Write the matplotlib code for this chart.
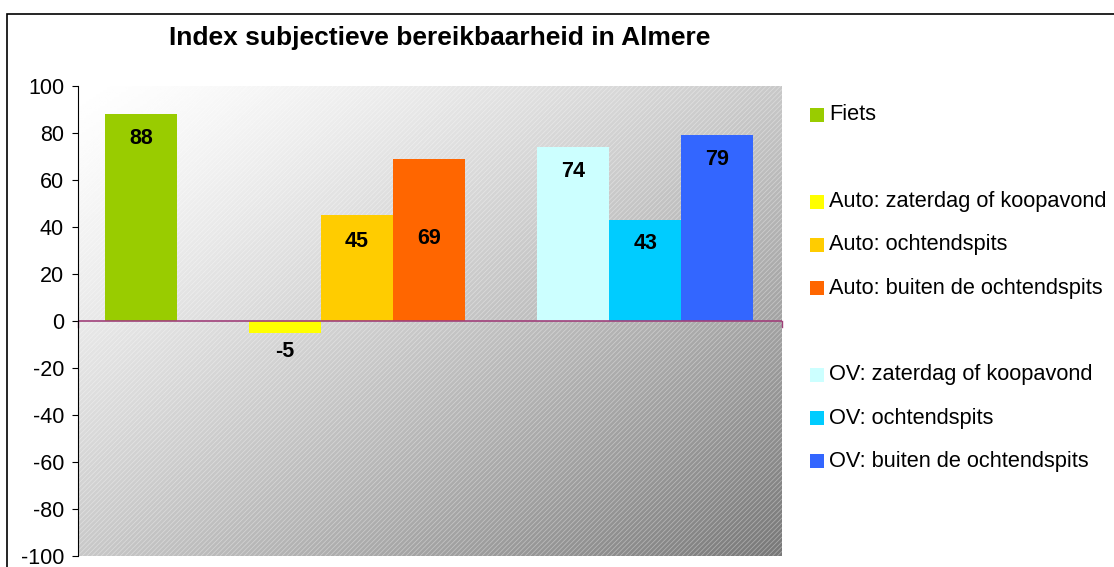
import numpy as np
import matplotlib
matplotlib.use('Agg')
import matplotlib.pyplot as plt
from matplotlib.patches import Rectangle

plt.rcParams['font.family'] = ['Liberation Sans', 'DejaVu Sans']
plt.rcParams['hatch.linewidth'] = 0.6
plt.rcParams['axes.unicode_minus'] = False

# series (None = blank series used as spacer, as in the original Excel chart)
labels = ['Fiets', '',
          'Auto: zaterdag of koopavond', 'Auto: ochtendspits', 'Auto: buiten de ochtendspits', '',
          'OV: zaterdag of koopavond', 'OV: ochtendspits', 'OV: buiten de ochtendspits']
values = [88, None, -5, 45, 69, None, 74, 43, 79]
colors = ['#99CC00', None, '#FFFF00', '#FFCC00', '#FF6600', None, '#CCFFFF', '#00CCFF', '#3366FF']
# label offset in pixels from bar end (69 was moved by hand in the original)
label_offsets = [-24, 0, -19, -26, -80, 0, -24, -24, -24]

W, H = 1114, 567
fig = plt.figure(figsize=(W / 100, H / 100), dpi=100)
fig.patch.set_facecolor('white')

# outer chart border (clipped on right/bottom like the source)
fig.add_artist(Rectangle((7 / W, -0.05), 1.1, 1 - 14 / H + 0.05, transform=fig.transFigure,
                         fill=False, edgecolor='black', linewidth=1.2))

ax = fig.add_axes([78 / W, 1 - 556 / H, (782 - 78) / W, (556 - 86) / H])

# gradient background
ny, nx = 200, 300
gx = np.linspace(0, 1, nx)
gy = np.linspace(0, 1, ny)
GX, GY = np.meshgrid(gx, gy)
t = np.clip((GX + GY) / 2, 0, 1)
grad = 1.0 - t ** 1.3 * (135 / 255)
ax.imshow(grad, cmap='gray', vmin=0, vmax=1, extent=[0, 1, 0, 1], transform=ax.transAxes,
          aspect='auto', origin='upper', zorder=0, interpolation='bilinear')
ax.add_patch(Rectangle((0, 0), 1, 1, transform=ax.transAxes, facecolor='none',
                       edgecolor=(1, 1, 1, 0.35), hatch='///////', linewidth=0, zorder=0.5))

x = np.arange(len(values))
for i, (v, c) in enumerate(zip(values, colors)):
    if v is None:
        continue
    ax.bar(x[i], v, width=1.0, color=c, zorder=2, linewidth=0)
    off = label_offsets[i]
    ax.annotate(str(v), (x[i], v), xytext=(0, off * 0.72), textcoords='offset points',
                ha='center', va='center', fontsize=15.5, fontweight='bold', zorder=3)

ax.set_xlim(-0.875, 8.9)
ax.set_ylim(-100, 100)
ax.set_yticks(np.arange(-100, 101, 20))
ax.tick_params(axis='y', labelsize=15.5, length=4, direction='out', pad=6)
ax.set_xticks([])
for s in ['top', 'right', 'bottom']:
    ax.spines[s].set_visible(False)
ax.spines['left'].set_color('black')

# zero axis line
ax.axhline(0, color='#A0407A', linewidth=1.2, zorder=2.5)
ax.plot([-0.875, -0.875], [0, -2.5], color='#A0407A', lw=1, clip_on=False, zorder=2.5)
ax.plot([8.9, 8.9], [0, -2.5], color='#A0407A', lw=1, clip_on=False, zorder=2.5)

fig.text(440 / W, 1 - 38 / H, 'Index subjectieve bereikbaarheid in Almere',
         ha='center', va='center', fontsize=19, fontweight='bold')

# legend, drawn entry by entry (blank series leave gaps)
y0, dy = 115, 43.3
for i, (lab, c) in enumerate(zip(labels, colors)):
    yy = y0 + i * dy
    if c is None:
        continue
    fig.add_artist(Rectangle((810 / W, 1 - (yy + 7) / H), 14 / W, 14 / H,
                             transform=fig.transFigure, facecolor=c, edgecolor='none'))
    fig.text(829 / W, 1 - yy / H, lab, ha='left', va='center', fontsize=15.7)

fig.savefig('out.png', dpi=100)
